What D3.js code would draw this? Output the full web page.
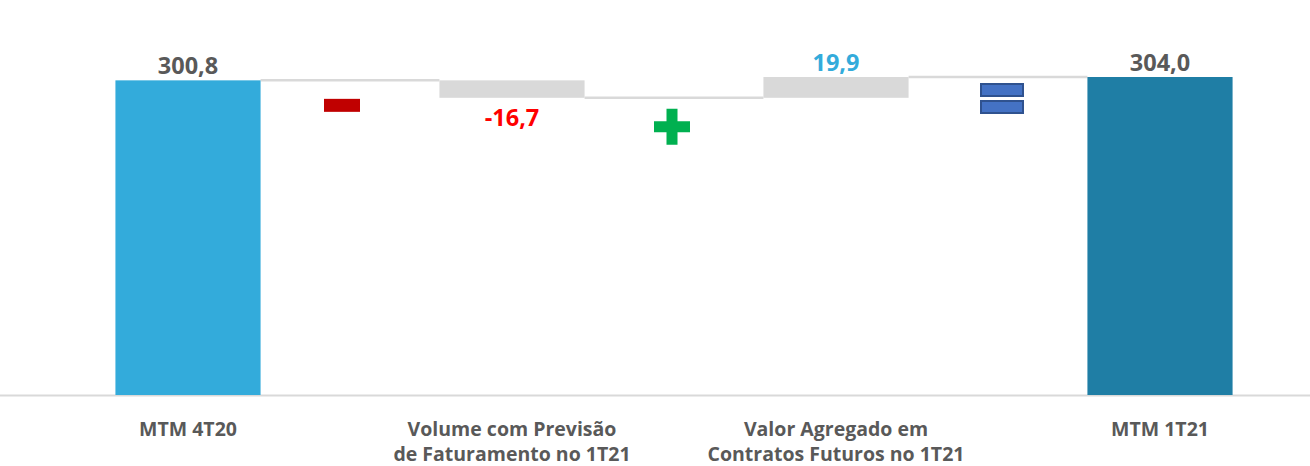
<!DOCTYPE html>
<html>
<head>
<meta charset="utf-8">
<script src="https://cdn.jsdelivr.net/npm/d3@7"></script>
<style>
  body { margin: 0; background: #ffffff; }
  svg text { font-family: "Open Sans", "Segoe UI", sans-serif; font-weight: 700; }
</style>
</head>
<body>
<svg id="chart" width="1310" height="466"></svg>
<script>
////////////////////////////////////////////////////////////////////////
//
// Waterfall: MTM 4T20 -> MTM 1T21
//
////////////////////////////////////////////////////////////////////////

//Data
var categories = ["MTM 4T20", "Volume com Previsão\nde Faturamento no 1T21", "Valor Agregado em\nContratos Futuros no 1T21", "MTM 1T21"];
var values = [300.8, -16.7, 19.9, 304.0];
var kinds = ["total", "delta", "delta", "total"];
var valueLabels = ["300,8", "-16,7", "19,9", "304,0"];
var signs = ["-", "+", "="];

var svg = d3.select("#chart");

var x = d3.scaleBand()
  .domain(categories)
  .range([26, 1322])
  .paddingInner(0.552)
  .paddingOuter(0.276);

var y = d3.scaleLinear()
  .domain([0, 304])
  .range([395, 77]);

//compute start / end of each step
var steps = [];
var running = 0;
values.forEach(function(v, i)
  {
  var start, end;
  if(kinds[i] === "total") { start = 0; end = v; running = v; }
  else { start = running; end = running + v; running = end; }
  steps.push({cat: categories[i], start: start, end: end, value: v, label: valueLabels[i], i: i});
  });

//                 light blue  gray       gray       dark blue
var barColors = ["#33ABDB", "#D9D9D9", "#D9D9D9", "#1F7EA5"];
var labelColors = ["#595959", "#FF0000", "#33ABDB", "#595959"];

//axis line
svg.append("line")
  .attr("x1", 0).attr("x2", 1310)
  .attr("y1", y(0) + 0.5).attr("y2", y(0) + 0.5)
  .attr("stroke", "#D9D9D9")
  .attr("stroke-width", 2);

//connector lines between bars
for(var i = 0; i < steps.length - 1; i++)
  {
  var level = steps[i].end;
  svg.append("line")
    .attr("x1", x(steps[i].cat) + x.bandwidth())
    .attr("x2", x(steps[i + 1].cat))
    .attr("y1", y(level))
    .attr("y2", y(level))
    .attr("stroke", "#D9D9D9")
    .attr("stroke-width", 2.5);
  }

//bars
svg.selectAll("rect.bar")
  .data(steps)
  .enter()
  .append("rect")
  .attr("class", "bar")
  .attr("x", function(d) { return x(d.cat); })
  .attr("width", x.bandwidth())
  .attr("y", function(d) { return y(Math.max(d.start, d.end)); })
  .attr("height", function(d) { return Math.abs(y(d.start) - y(d.end)); })
  .attr("fill", function(d) { return barColors[d.i]; });

//value labels
svg.selectAll("text.value")
  .data(steps)
  .enter()
  .append("text")
  .attr("class", "value")
  .attr("x", function(d) { return x(d.cat) + x.bandwidth() / 2; })
  .attr("y", function(d)
    {
    if(d.value < 0) return y(d.end) + 28;
    return y(Math.max(d.start, d.end)) - 6;
    })
  .attr("text-anchor", "middle")
  .attr("font-size", 23.5)
  .attr("fill", function(d) { return labelColors[d.i]; })
  .text(function(d) { return d.label; });

//category labels
var catLabels = svg.selectAll("text.cat")
  .data(categories)
  .enter()
  .append("text")
  .attr("class", "cat")
  .attr("text-anchor", "middle")
  .attr("font-size", 19.5)
  .attr("fill", "#595959")
  .attr("x", function(d) { return x(d) + x.bandwidth() / 2; })
  .attr("y", 436);

catLabels.each(function(d)
  {
  var lines = d.split("\n");
  var t = d3.select(this);
  lines.forEach(function(line, k)
    {
    t.append("tspan")
      .attr("x", x(d) + x.bandwidth() / 2)
      .attr("dy", k === 0 ? 0 : 25)
      .text(line);
    });
  });

//operator signs between bars
function gapCenter(i)
  {
  return (x(categories[i]) + x.bandwidth() + x(categories[i + 1])) / 2;
  }

//minus
var mx = gapCenter(0) - 8, my = y(steps[0].end) + 25;
svg.append("rect")
  .attr("x", mx - 18).attr("y", my - 6.5)
  .attr("width", 36).attr("height", 13)
  .attr("fill", "#C00000");

//plus
var px = gapCenter(1) - 2, py = y(steps[1].end) + 29;
svg.append("path")
  .attr("d", "M" + (px - 5.5) + "," + (py - 18) + "h11v12.5h12.5v11h-12.5v12.5h-11v-12.5h-12.5v-11h12.5z")
  .attr("fill", "#00B050");

//equals
var ex = gapCenter(2) + 4, ey = y(steps[2].end) + 22;
[-9, 8].forEach(function(off)
  {
  svg.append("rect")
    .attr("x", ex - 21).attr("y", ey + off - 6)
    .attr("width", 42).attr("height", 12)
    .attr("fill", "#4472C4")
    .attr("stroke", "#2F528F")
    .attr("stroke-width", 2);
  });
</script>
</body>
</html>
